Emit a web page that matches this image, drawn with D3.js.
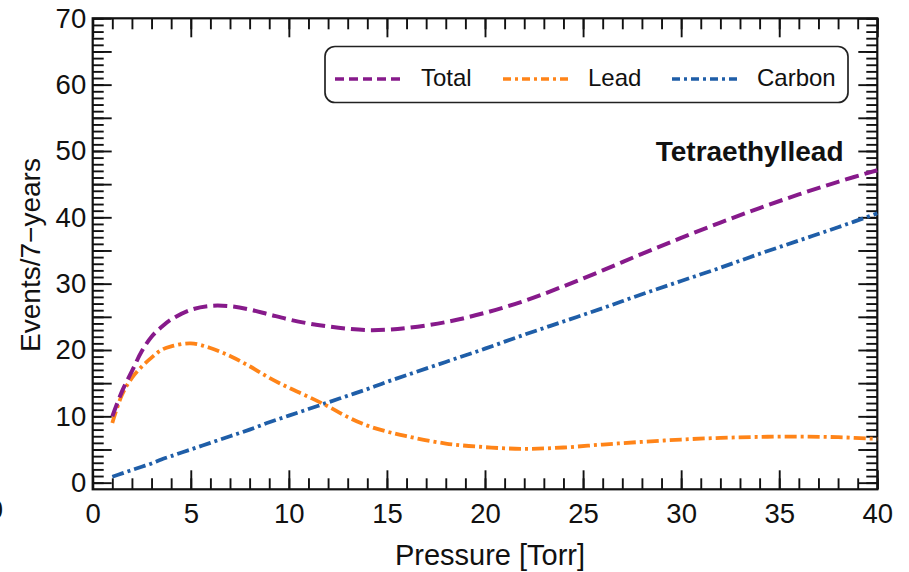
<!DOCTYPE html>
<html>
<head>
<meta charset="utf-8">
<script src="https://cdn.jsdelivr.net/npm/d3@7"></script>
<style>
  html, body { margin: 0; padding: 0; background: #fff; }
  svg { display: block; }
  text { font-family: "Liberation Sans", Arial, Helvetica, sans-serif; fill: #111; }
</style>
</head>
<body>
<svg id="chart" width="909" height="572"></svg>
<script>
// Pressure grid (Torr) and expected event counts over 7 years
const pressure = [1, 1.5, 2, 2.5, 3, 3.5, 4, 5, 6, 7, 8, 9, 10, 11, 12, 13, 14, 15, 16,
                  18, 20, 22, 24, 26, 28, 30, 32, 34, 36, 38, 40];
const totalEvents = [10.0, 13.8, 16.8, 19.8, 22.0, 23.45, 24.6, 26.05, 26.65, 26.6, 26.1, 25.35,
                     24.6, 24.0, 23.55, 23.2, 23.0, 23.05, 23.3,
                     24.2, 25.6, 27.4, 29.6, 32.0, 34.5, 36.9, 39.2, 41.4, 43.45, 45.35, 47.1];
const leadEvents = [9.0, 13.3, 15.8, 17.5, 18.85, 20.0, 20.55, 21.0, 20.3, 19.1, 17.55, 15.8,
                    14.3, 12.95, 11.5, 9.9, 8.6, 7.7, 7.0,
                    5.9, 5.35, 5.1, 5.3, 5.75, 6.15, 6.5, 6.75, 6.9, 6.95, 6.85, 6.6];
const carbonEvents = [0.9, 1.4, 1.9, 2.4, 2.9, 3.5, 4.0, 5.0, 6.0, 7.0, 8.0, 9.1,
                      10.1, 11.1, 12.1, 13.1, 14.1, 15.2, 16.2,
                      18.2, 20.2, 22.3, 24.3, 26.3, 28.4, 30.4, 32.4, 34.5, 36.5, 38.5, 40.6];

const seriesNames = ["Total", "Lead", "Carbon"];
const xTickLabels = [0, 5, 10, 15, 20, 25, 30, 35, 40];
const yTickLabels = [0, 10, 20, 30, 40, 50, 60, 70];
const xLabel = "Pressure [Torr]";
const yLabel = "Events/7\u2212years";
const plotTitle = "Tetraethyllead";

const series = [
  { name: seriesNames[0], values: totalEvents,  color: "#871a8b", width: 4.0, dash: "14,6",     legendDash: "9,5" },
  { name: seriesNames[1], values: leadEvents,   color: "#ff8418", width: 3.8, dash: "12,4,3,4", legendDash: "8,4,3,4" },
  { name: seriesNames[2], values: carbonEvents, color: "#1f5ea8", width: 3.8, dash: "12,4,3,4", legendDash: "8,4,3,4" }
];

const svg = d3.select("#chart");
const frame = { left: 92.7, right: 877.3, top: 18.3, bottom: 489.3 };

const x = d3.scaleLinear().domain([0, 40]).range([frame.left, frame.right]);
const y = d3.scaleLinear().domain([-1, 70]).range([frame.bottom, frame.top]);

const minorLen = 11, majorLen = 19;
const xMinor = d3.range(0, 41, 1);
const xMajor = d3.range(0, 41, 5);
const yMinor = d3.range(0, 71, 1);
const yMajor = d3.range(0, 71, 5);

function styleAxis(g, fontSize) {
  g.select(".domain").remove();
  g.selectAll(".tick line").attr("stroke", "#111").attr("stroke-width", 1.9);
  g.selectAll(".tick text").attr("font-size", fontSize).attr("fill", "#111");
}

// bottom axis: minor + major (labelled)
svg.append("g").attr("transform", `translate(0,${frame.bottom})`)
  .call(d3.axisBottom(x).tickValues(xMinor).tickSize(-minorLen).tickFormat(""))
  .call(g => styleAxis(g, 27.5));
svg.append("g").attr("transform", `translate(0,${frame.bottom})`)
  .call(d3.axisBottom(x).tickValues(xMajor).tickSize(-majorLen).tickPadding(14)
        .tickFormat(d => xTickLabels.includes(d) ? d : ""))
  .call(g => styleAxis(g, 27.5));

// top axis: ticks only
svg.append("g").attr("transform", `translate(0,${frame.top})`)
  .call(d3.axisTop(x).tickValues(xMinor).tickSize(-minorLen).tickFormat(""))
  .call(g => styleAxis(g, 27.5));
svg.append("g").attr("transform", `translate(0,${frame.top})`)
  .call(d3.axisTop(x).tickValues(xMajor).tickSize(-majorLen).tickFormat(""))
  .call(g => styleAxis(g, 27.5));

// left axis: minor + major, labels every 10
svg.append("g").attr("transform", `translate(${frame.left},0)`)
  .call(d3.axisLeft(y).tickValues(yMinor).tickSize(-minorLen).tickFormat(""))
  .call(g => styleAxis(g, 27.5));
svg.append("g").attr("transform", `translate(${frame.left},0)`)
  .call(d3.axisLeft(y).tickValues(yMajor).tickSize(-majorLen).tickPadding(6.5)
        .tickFormat(d => yTickLabels.includes(d) ? d : ""))
  .call(g => styleAxis(g, 27.5));

// right axis: ticks only
svg.append("g").attr("transform", `translate(${frame.right},0)`)
  .call(d3.axisRight(y).tickValues(yMinor).tickSize(-minorLen).tickFormat(""))
  .call(g => styleAxis(g, 27.5));
svg.append("g").attr("transform", `translate(${frame.right},0)`)
  .call(d3.axisRight(y).tickValues(yMajor).tickSize(-majorLen).tickFormat(""))
  .call(g => styleAxis(g, 27.5));

// plot frame
svg.append("rect")
  .attr("x", frame.left).attr("y", frame.top)
  .attr("width", frame.right - frame.left).attr("height", frame.bottom - frame.top)
  .attr("fill", "none").attr("stroke", "#111").attr("stroke-width", 2.2);

// curves
const line = d3.line()
  .x((d, i) => x(pressure[i]))
  .y(d => y(d))
  .curve(d3.curveCatmullRom.alpha(0.5));

svg.append("g").selectAll("path")
  .data(series.slice().reverse())
  .join("path")
  .attr("d", s => line(s.values))
  .attr("fill", "none")
  .attr("stroke", s => s.color)
  .attr("stroke-width", s => s.width)
  .attr("stroke-dasharray", s => s.dash)
  .attr("stroke-linejoin", "round");

// axis titles
svg.append("text")
  .attr("x", 490).attr("y", 565)
  .attr("text-anchor", "middle").attr("font-size", 29)
  .text(xLabel);

svg.append("text")
  .attr("transform", "translate(40,255) rotate(-90)")
  .attr("text-anchor", "middle").attr("font-size", 28)
  .text(yLabel);

// right edge of a neighbouring panel's tick label, clipped by the page
svg.append("text")
  .attr("x", 3).attr("y", 519)
  .attr("text-anchor", "end").attr("font-size", 27.5)
  .text("40");

// bold title inside the plot
svg.append("text")
  .attr("x", 843.5).attr("y", 160.5)
  .attr("text-anchor", "end").attr("font-size", 28).attr("font-weight", "bold")
  .text(plotTitle);

// legend
const legend = svg.append("g");
legend.append("rect")
  .attr("x", 325).attr("y", 46.5).attr("width", 523).attr("height", 56)
  .attr("rx", 10).attr("ry", 10)
  .attr("fill", "#fff").attr("stroke", "#222").attr("stroke-width", 1.7);

const legendItems = [
  { lineX: 335, textX: 421 },
  { lineX: 503, textX: 588 },
  { lineX: 672, textX: 757 }
];
const legendLineLen = 66;
series.forEach((s, i) => {
  const it = legendItems[i];
  legend.append("line")
    .attr("x1", it.lineX).attr("x2", it.lineX + legendLineLen)
    .attr("y1", 79).attr("y2", 79)
    .attr("stroke", s.color).attr("stroke-width", 3.4)
    .attr("stroke-dasharray", s.legendDash);
  legend.append("text")
    .attr("x", it.textX).attr("y", 86)
    .attr("font-size", 24)
    .text(s.name);
});
</script>
</body>
</html>
